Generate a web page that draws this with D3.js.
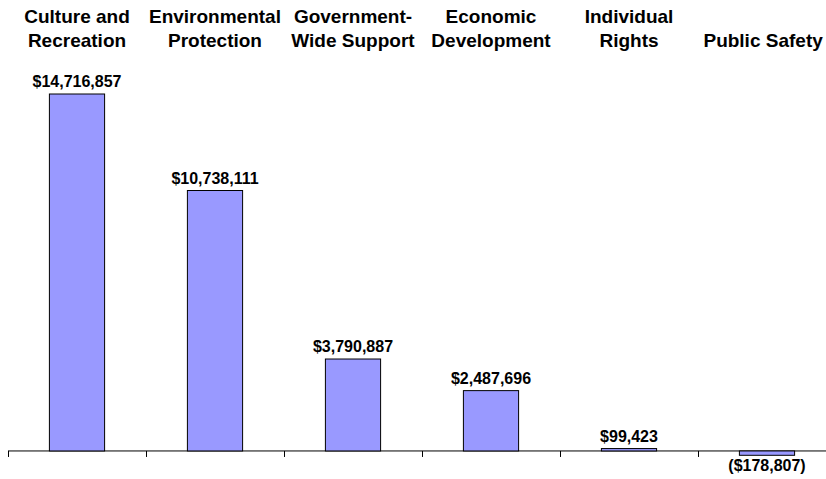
<!DOCTYPE html>
<html><head><meta charset="utf-8">
<script src="https://cdn.jsdelivr.net/npm/d3@7"></script>
<style>body{margin:0;background:#fff}svg{display:block}text{font-family:"Liberation Sans",Arial,sans-serif;font-weight:bold;fill:#000}</style>
</head><body><svg id="c" width="826" height="479"></svg>
<script>
const categories = ["Culture and\nRecreation","Environmental\nProtection","Government-\nWide Support","Economic\nDevelopment","Individual\nRights","Public Safety"];
const values = [14716857,10738111,3790887,2487696,99423,-178807];
const valueLabels = ["$14,716,857","$10,738,111","$3,790,887","$2,487,696","$99,423","($178,807)"];

const W = 826;
const svg = d3.select("#c");
const x = d3.scaleBand().domain(d3.range(categories.length)).range([8, 836]).paddingInner(0).paddingOuter(0);
const y = d3.scaleLinear().domain([-178807, 14716857]).range([455.3, 94]);
const y0 = y(0);

svg.append("line").attr("x1", 8).attr("x2", W).attr("y1", y0).attr("y2", y0).attr("stroke", "#000").attr("stroke-width", 1);
svg.selectAll(".tick").data(d3.range(categories.length + 1)).join("line")
  .attr("x1", i => Math.round(8 + i * x.bandwidth()) + 0.5).attr("x2", i => Math.round(8 + i * x.bandwidth()) + 0.5)
  .attr("y1", y0).attr("y2", y0 + 6).attr("stroke", "#000");

const bw = x.bandwidth() * 0.4;
svg.selectAll(".bar").data(values).join("rect")
  .attr("x", (d, i) => x(i) + (x.bandwidth() - bw) / 2)
  .attr("y", d => Math.min(y(d), y0))
  .attr("width", bw)
  .attr("height", d => Math.abs(y(d) - y0))
  .attr("fill", "#9999FF").attr("stroke", "#000").attr("stroke-width", 1);

svg.selectAll(".vl").data(values).join("text")
  .attr("x", (d, i) => x(i) + x.bandwidth() / 2)
  .attr("y", d => d >= 0 ? y(d) - 7 : y(d) + 16)
  .attr("text-anchor", "middle").attr("font-size", 16)
  .text((d, i) => valueLabels[i]);

categories.forEach((c, i) => {
  const lines = c.split("\n");
  const t = svg.append("text").attr("text-anchor", "middle").attr("font-size", 19);
  lines.forEach((l, j) => {
    t.append("tspan").attr("y", (lines.length === 1 ? 47 : 23 + j * 24)).text(l);
  });
  const w = t.node().getBBox().width;
  const cx = Math.min(x(i) + x.bandwidth() / 2, W - 3 - w / 2);
  t.selectAll("tspan").attr("x", cx);
});
</script></body></html>
